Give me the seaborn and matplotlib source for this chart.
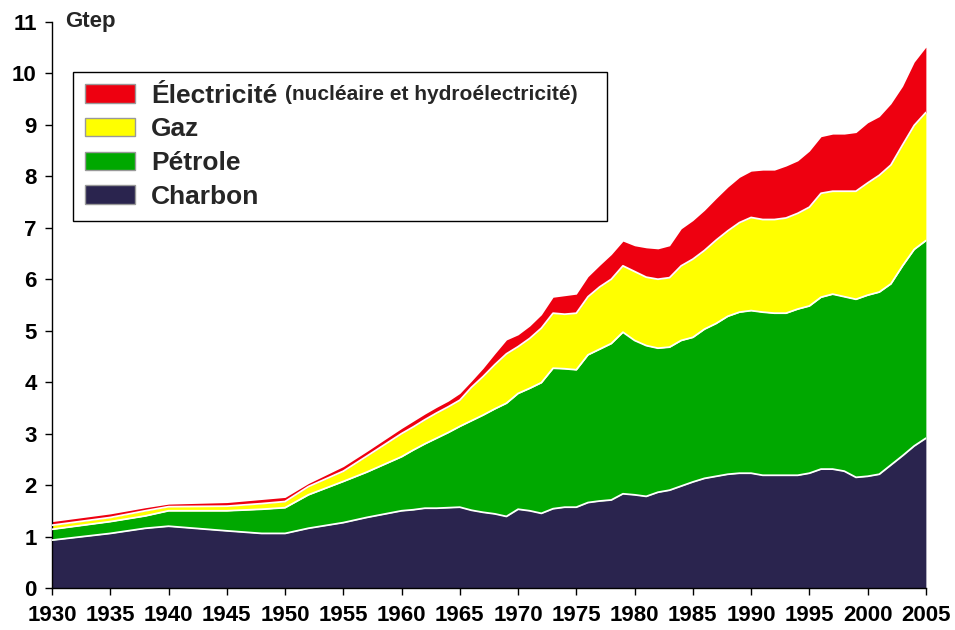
"""
Consommation mondiale d'energie primaire 1930-2005 (Gtep), aires empilees.
"""

import numpy as np
import pandas as pd
import matplotlib
matplotlib.use("Agg")
import matplotlib.pyplot as plt
from matplotlib.patches import Patch
import seaborn as sns


# ─────────────────────────────────────────────
# DATA (Gtep)
# ─────────────────────────────────────────────
YEARS = [1930, 1935, 1938, 1940, 1945, 1948, 1950, 1952, 1955, 1957,
         1960, 1961, 1962, 1963, 1964, 1965, 1966, 1967, 1968, 1969,
         1970, 1971, 1972, 1973, 1974, 1975, 1976, 1977, 1978, 1979,
         1980, 1981, 1982, 1983, 1984, 1985, 1986, 1987, 1988, 1989,
         1990, 1991, 1992, 1993, 1994, 1995, 1996, 1997, 1998, 1999,
         2000, 2001, 2002, 2003, 2004, 2005]

CHARBON = [0.93, 1.06, 1.16, 1.20, 1.11, 1.06, 1.06, 1.16, 1.27, 1.37,
           1.50, 1.52, 1.55, 1.55, 1.56, 1.57, 1.51, 1.47, 1.44, 1.39,
           1.53, 1.50, 1.45, 1.54, 1.57, 1.57, 1.66, 1.69, 1.71, 1.83,
           1.81, 1.78, 1.86, 1.90, 1.98, 2.06, 2.13, 2.17, 2.21, 2.23,
           2.23, 2.19, 2.19, 2.19, 2.19, 2.23, 2.31, 2.31, 2.27, 2.15,
           2.17, 2.21, 2.39, 2.57, 2.76, 2.91]

PETROLE = [0.21, 0.23, 0.24, 0.30, 0.39, 0.47, 0.50, 0.65, 0.80, 0.88,
           1.05, 1.16, 1.25, 1.36, 1.46, 1.57, 1.74, 1.89, 2.04, 2.20,
           2.25, 2.38, 2.54, 2.73, 2.69, 2.67, 2.87, 2.95, 3.04, 3.14,
           3.00, 2.93, 2.80, 2.78, 2.83, 2.81, 2.90, 2.97, 3.07, 3.13,
           3.16, 3.17, 3.15, 3.15, 3.23, 3.25, 3.34, 3.40, 3.39, 3.46,
           3.52, 3.54, 3.52, 3.69, 3.82, 3.84]

GAZ = [0.08, 0.08, 0.10, 0.08, 0.09, 0.11, 0.12, 0.16, 0.20, 0.31,
       0.45, 0.45, 0.47, 0.49, 0.50, 0.51, 0.65, 0.75, 0.86, 0.96,
       0.91, 0.97, 1.06, 1.07, 1.06, 1.10, 1.13, 1.21, 1.25, 1.29,
       1.34, 1.33, 1.34, 1.35, 1.45, 1.52, 1.53, 1.62, 1.66, 1.74,
       1.81, 1.80, 1.82, 1.85, 1.86, 1.92, 2.02, 2.00, 2.05, 2.10,
       2.18, 2.27, 2.31, 2.35, 2.41, 2.49]

ELECTRICITE = [0.07, 0.07, 0.06, 0.05, 0.07, 0.08, 0.08, 0.06, 0.09, 0.09,
               0.10, 0.11, 0.11, 0.11, 0.11, 0.13, 0.12, 0.16, 0.21, 0.27,
               0.23, 0.24, 0.26, 0.31, 0.36, 0.37, 0.39, 0.42, 0.48, 0.48,
               0.50, 0.57, 0.59, 0.62, 0.72, 0.75, 0.78, 0.81, 0.85, 0.88,
               0.90, 0.96, 0.96, 1.01, 1.02, 1.09, 1.10, 1.11, 1.11, 1.14,
               1.17, 1.14, 1.19, 1.14, 1.23, 1.27]

LABELS = ["Charbon", "Pétrole", "Gaz", "Électricité"]
COLORS = ["#2a244e", "#00a800", "#ffff00", "#ee0010"]

X_TICKS = list(range(1930, 2006, 5))
Y_TICKS = list(range(0, 12))


# ─────────────────────────────────────────────
# STYLE
# ─────────────────────────────────────────────
sns.set_style("ticks")
plt.rcParams["font.family"] = ["Liberation Sans", "DejaVu Sans"]
plt.rcParams["font.weight"] = "bold"

fig = plt.figure(figsize=(9.55, 6.30), dpi=100)
ax = fig.add_axes([0.0545, 0.0667, 0.915, 0.8985])

# ─────────────────────────────────────────────
# STACKED AREAS
# ─────────────────────────────────────────────
layers = [CHARBON, PETROLE, GAZ, ELECTRICITE]
ax.stackplot(YEARS, *layers, colors=COLORS, linewidth=0)

# white separation lines between the layers
df = pd.DataFrame({"annee": YEARS})
tops = np.cumsum(np.array(layers), axis=0)
for i in range(3):
    df["top"] = tops[i]
    sns.lineplot(data=df, x="annee", y="top", ax=ax, color="white",
                 linewidth=1.3, zorder=3)

# ─────────────────────────────────────────────
# AXES
# ─────────────────────────────────────────────
ax.set_xlim(1930, 2005)
ax.set_ylim(0, 11)
ax.set_xticks(X_TICKS)
ax.set_yticks(Y_TICKS)
ax.set_xlabel("")
ax.set_ylabel("")
ax.tick_params(axis="both", direction="out", length=5, width=1,
               color="black", labelsize=16, labelcolor="black")
ax.tick_params(axis="x", pad=7)
ax.tick_params(axis="y", pad=6)
for lbl in ax.get_xticklabels() + ax.get_yticklabels():
    lbl.set_fontweight("bold")
sns.despine(ax=ax)
for side in ["left", "bottom"]:
    ax.spines[side].set_color("black")
    ax.spines[side].set_linewidth(1)

ax.text(0.015, 1.0, "Gtep", transform=ax.transAxes, fontsize=16,
        fontweight="bold", ha="left", va="center")

# ─────────────────────────────────────────────
# LEGEND
# ─────────────────────────────────────────────
handles = [Patch(facecolor=c, edgecolor="#999999", linewidth=1)
           for c in COLORS[::-1]]
leg = ax.legend(handles, LABELS[::-1], loc="upper left",
                bbox_to_anchor=(0.024, 0.655, 0.611, 0.257), mode="expand",
                prop={"size": 19, "weight": "bold"}, frameon=True,
                fancybox=False, framealpha=1, edgecolor="black",
                handlelength=1.9, handleheight=0.7, handletextpad=0.6,
                labelspacing=0.37, borderpad=0.45, borderaxespad=0)
leg.get_frame().set_linewidth(1)

fig.canvas.draw()
bb = leg.get_texts()[0].get_window_extent()
inv = fig.transFigure.inverted()
x1, y0 = inv.transform((bb.x1, bb.y0))
fig.text(x1 + 0.008, y0 + 0.006, "(nucléaire et hydroélectricité)",
         fontsize=15, fontweight="bold", ha="left", va="bottom")

fig.savefig("out.png", dpi=100)
plt.close(fig)
